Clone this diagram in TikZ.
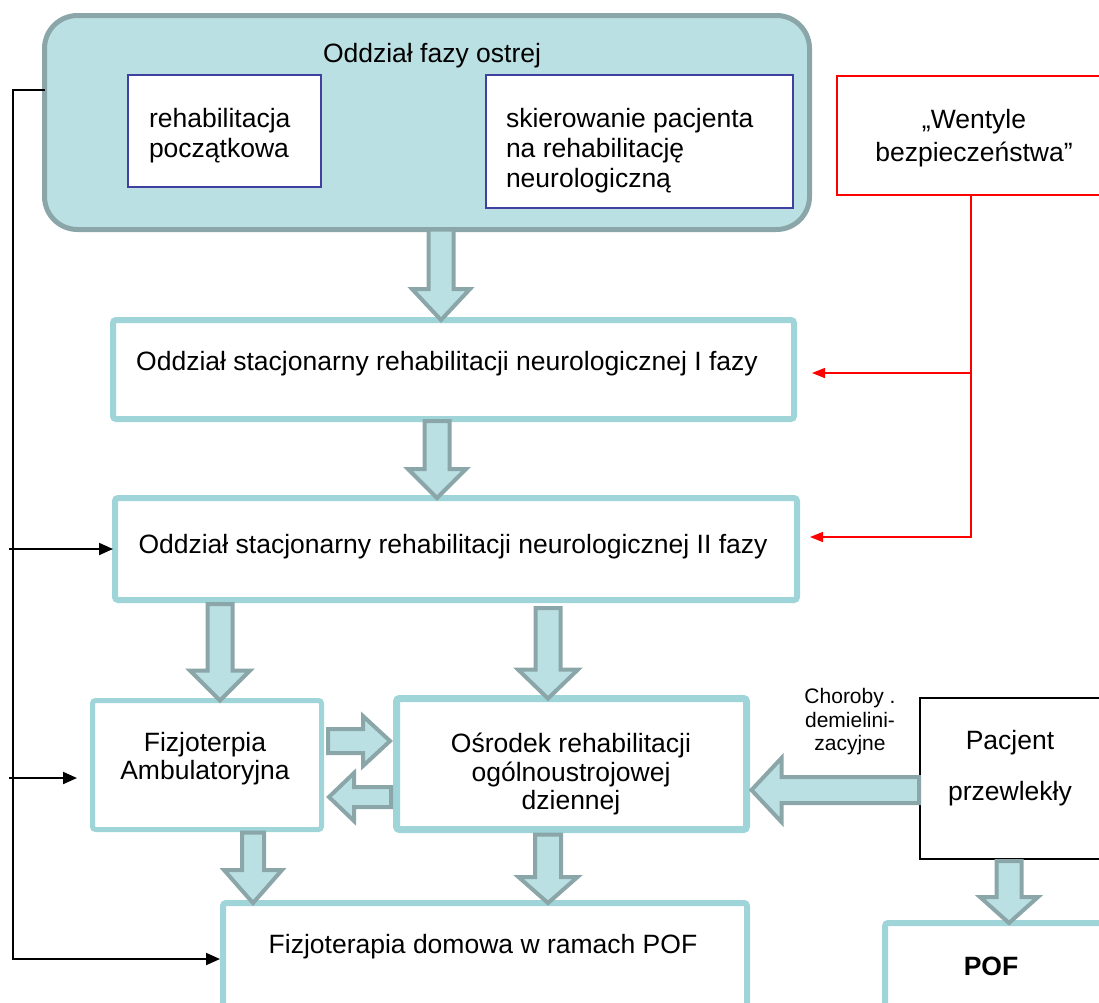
\documentclass[tikz,border=0pt]{standalone}
\usepackage{fontspec}
\setmainfont{Liberation Sans}
\usetikzlibrary{arrows.meta,calc}
\definecolor{tealB}{RGB}{159,213,216}
\definecolor{arrFill}{RGB}{187,224,227}
\definecolor{arrLine}{RGB}{139,166,168}
\definecolor{innerBlue}{RGB}{64,64,160}
\definecolor{redL}{RGB}{255,0,0}
\newcommand\vblock[7]{%
  \draw[blockarr] let \p1=#1, \p2=#2 in
    (\x1-#3pt,\y1-#6pt) -- (\x1+#3pt,\y1-#6pt) -- (\x1+#3pt,\y2+#7pt+#5pt)
    -- (\x1+#4pt,\y2+#7pt+#5pt) -- (\x1,\y2+#7pt) -- (\x1-#4pt,\y2+#7pt+#5pt)
    -- (\x1-#3pt,\y2+#7pt+#5pt) -- cycle;}
\newcommand\hblock[8]{%
  \draw[blockarr] let \p1=#1, \p2=#2 in
    ({\x1+(#8)*#6pt},{\y1-#3pt}) -- ({\x2-(#8)*#7pt-(#8)*#5pt},{\y1-#3pt})
    -- ({\x2-(#8)*#7pt-(#8)*#5pt},{\y1-#4pt}) -- ({\x2-(#8)*#7pt},\y1)
    -- ({\x2-(#8)*#7pt-(#8)*#5pt},{\y1+#4pt}) -- ({\x2-(#8)*#7pt-(#8)*#5pt},{\y1+#3pt})
    -- ({\x1+(#8)*#6pt},{\y1+#3pt}) -- cycle;}
\tikzset{
  anybox/.style={rectangle, inner sep=0pt, outer sep=0pt},
  tealbox/.style={anybox, draw=tealB, fill=white, line width=6pt, rounded corners=3pt},
  topbox/.style={anybox, draw=arrLine, fill=arrFill, line width=5pt, rounded corners=33pt},
  innerbox/.style={anybox, draw=innerBlue, fill=white, line width=1.5pt},
  redbox/.style={anybox, draw=redL, fill=white, line width=2pt},
  blackbox/.style={anybox, draw=black, fill=white, line width=2pt},
  blockarr/.style={fill=arrFill, draw=arrLine, line width=4pt, line join=miter},
  blk/.style={draw=black, line width=2pt, -{Triangle[length=14pt,width=12pt]}},
  redl/.style={draw=redL, line width=1.5pt, -{Triangle[length=13pt,width=10pt]}},
  txt/.style={inner sep=0pt, outer sep=0pt, anchor=base, font=\fontsize{26.5}{30}\selectfont},
  txtl/.style={txt, anchor=base west},
  small/.style={inner sep=0pt, outer sep=0pt, anchor=base, font=\fontsize{21}{24}\selectfont}
}
\begin{document}
\begin{tikzpicture}[x=1pt,y=-1pt]
\useasboundingbox (0,0) rectangle (1099,1002);
\clip (0,0) rectangle (1099,1002);

% boxes
\node[topbox, minimum width=765pt, minimum height=214pt] (top) at (427,122.5) {};
\node[innerbox, minimum width=193pt, minimum height=112pt] (in1) at (224.5,131) {};
\node[innerbox, minimum width=307pt, minimum height=133pt] (in2) at (639.5,141.5) {};
\node[redbox, minimum width=268pt, minimum height=119pt] (red) at (971,135.5) {};
\node[tealbox, minimum width=681pt, minimum height=99pt] (fazaI) at (453.5,369.5) {};
\node[tealbox, minimum width=682pt, minimum height=102pt] (fazaII) at (456,549) {};
\node[tealbox, line width=5pt, minimum width=229pt, minimum height=129pt] (fizjo) at (207,765) {};
\node[tealbox, line width=7pt, minimum width=350pt, minimum height=131pt] (osr) at (571.5,764) {};
\node[blackbox, minimum width=190pt, minimum height=161pt] (pac) at (1015,778.5) {};
\node[tealbox, minimum width=230pt, minimum height=92pt] (pof) at (1000,969) {};
\node[tealbox, minimum width=524pt, minimum height=112pt] (dom) at (485,959) {};

% black connectors
\coordinate (L0) at (13,90);
\coordinate (L1) at (9,0);
\coordinate (FA) at (77,778);
\draw[blk, shorten >=3pt] (top.west |- L0) -- (L0) -- (L0 |- dom.west) -- (dom.west);
\draw[blk, shorten >=2pt] (L1 |- fazaII.west) -- (fazaII.west);
\draw[blk] (L1 |- FA) -- (FA);

% red connectors
\coordinate (R1) at (812,373);
\coordinate (R2) at (810,537);
\draw[redl] (red.south) -- (red.south |- R2) -- (R2);
\draw[redl] (red.south |- R1) -- (R1);

% block arrows
\coordinate (a1) at (441,0);
\coordinate (a2) at (437,0);
\coordinate (a3) at (220,0);
\coordinate (a4) at (548,0);
\coordinate (a5) at (253,0);
\coordinate (a6) at (548,0);
\coordinate (a7) at (1009,0);
\coordinate (h1) at (0,741);
\coordinate (h2) at (0,797);
\coordinate (h3) at (0,790);
\vblock{(a1 |- top.south)}{(a1 |- fazaI.north)}{12.5}{29}{31}{0}{0}
\vblock{(a2 |- fazaI.south)}{(a2 |- fazaII.north)}{12.5}{29}{29}{2}{0}
\vblock{(a3 |- fazaII.south)}{(a3 |- fizjo.north)}{12.5}{30}{30}{4}{0}
\vblock{(a4 |- fazaII.south)}{(a4 |- osr.north)}{12.5}{30}{29}{8}{0}
\vblock{(a5 |- fizjo.south)}{(a5 |- dom.north)}{11}{29}{33}{3}{0}
\vblock{(a6 |- osr.south)}{(a6 |- dom.north)}{13}{29.5}{26}{5}{0}
\vblock{(a7 |- pac.south)}{(a7 |- pof.north)}{12.5}{29}{26}{2}{0}
\hblock{(fizjo.east |- h1)}{(osr.west |- h1)}{12}{25}{27}{6.5}{6.5}{1}
\hblock{(osr.west |- h2)}{(fizjo.east |- h2)}{10}{24}{25}{5.5}{7.5}{-1}
\hblock{(pac.west |- h3)}{(osr.east |- h3)}{13}{32}{30}{1}{5}{-1}

% texts
\node[txt] (tTop) at (432,62) {Oddział fazy ostrej};
\node[txtl] (tIn1a) at (149,127) {rehabilitacja};
\node[txtl] (tIn1b) at (149,157) {początkowa};
\node[txtl] (tIn2a) at (506,127) {skierowanie pacjenta};
\node[txtl] (tIn2b) at (506,157) {na rehabilitację};
\node[txtl] (tIn2c) at (506,187) {neurologiczną};
\node[txt] (tRedA) at (974,128) {„Wentyle};
\node[txt] (tRedB) at (974,161) {bezpieczeństwa”};
\node[txt] (tI) at (447,370) {Oddział stacjonarny rehabilitacji neurologicznej I fazy};
\node[txt] (tII) at (453,553) {Oddział stacjonarny rehabilitacji neurologicznej II fazy};
\node[txt] (tFa) at (205,751) {Fizjoterpia};
\node[txt] (tFb) at (205,779) {Ambulatoryjna};
\node[txt] (tOa) at (571,752) {Ośrodek rehabilitacji};
\node[txt] (tOb) at (571,781) {ogólnoustrojowej};
\node[txt] (tOc) at (571,809) {dziennej};
\node[small] (tCa) at (850,703) {Choroby .};
\node[small] (tCb) at (850,727) {demielini-};
\node[small] (tCc) at (850,750) {zacyjne};
\node[txt] (tPa) at (1010,749) {Pacjent};
\node[txt] (tPb) at (1010,800) {przewlekły};
\node[txt, font=\fontsize{26.5}{30}\selectfont\bfseries] (tPOF) at (991,975) {POF};
\node[txt] (tDom) at (483,953) {Fizjoterapia domowa w ramach POF};
\end{tikzpicture}
\end{document}
